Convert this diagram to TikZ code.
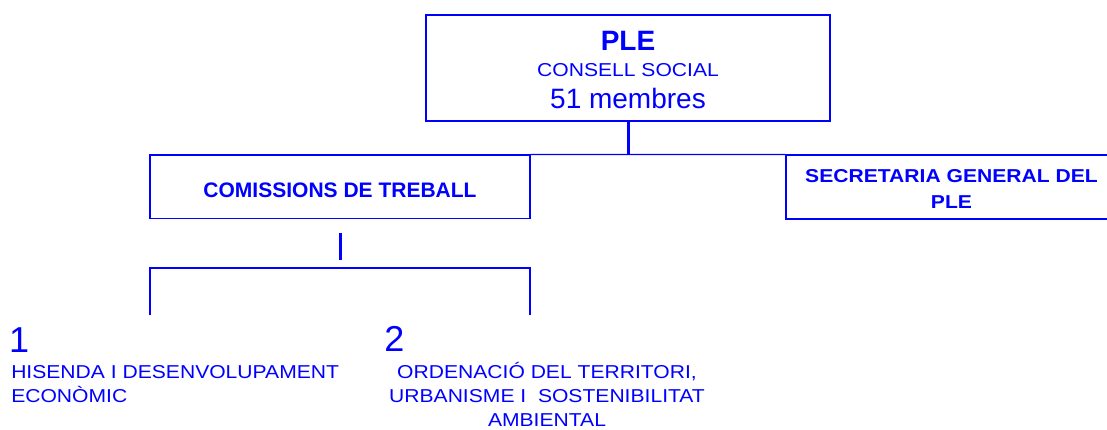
\documentclass[tikz,border=0pt]{standalone}
\usepackage{fontspec}
\setmainfont{Liberation Sans}
\newfontfamily\widefont[FakeStretch=1.13]{Liberation Sans}
\definecolor{orgblue}{RGB}{0,0,255}
\usetikzlibrary{positioning}

\tikzset{
    box/.style={draw=orgblue, line width=0.9pt},
    stem/.style={draw=orgblue, line width=2.25pt},
    link/.style={draw=orgblue, line width=0.9pt},
    lbl/.style={anchor=base west}
}

\begin{document}
\begin{tikzpicture}[x=0.75pt, y=-0.75pt, every node/.style={text=orgblue, inner sep=0pt}]
    \useasboundingbox (0,0) rectangle (1107,429);
    \clip (0,0) rectangle (1107,429);

    % Top box
    \node[box, minimum width=303pt, minimum height=79.5pt, align=center, text height=60.5pt, text depth=0pt, font=\fontsize{21}{19}\selectfont] (ple) at (628,68)
        {\bfseries PLE\\{\widefont\fontsize{14}{14}\selectfont CONSELL SOCIAL}\\[5.25pt]51 membres};

    % Second level
    \node[box, minimum width=285pt, minimum height=47.6pt, text height=15.75pt, text depth=0pt, font=\bfseries\fontsize{15.75}{19}\selectfont] (com) at (340,186.75) {COMISSIONS DE TREBALL};
    \node[box, minimum width=248.25pt, minimum height=48pt, align=center, text height=32pt, text depth=0pt, font=\widefont\bfseries\fontsize{14}{19.2}\selectfont] (sec) at (951.5,187) {SECRETARIA GENERAL DEL\\PLE};

    % Connectors
    \draw[stem] (ple.south) -- (ple.south |- com.north);
    \draw[link] (com.north east) -- (sec.north west);

    % Commissions branch
    \coordinate (stemtop) at (340,233);
    \coordinate (stembot) at (340,260);
    \draw[stem] (stemtop) -- (stembot);
    \coordinate (bar) at (340,268);
    \coordinate (c1) at (150,315);
    \coordinate (c2) at (530,315);
    \draw[link] (c1) |- (bar) -| (c2);

    % Commission labels
    \node[lbl, font=\fontsize{27}{27}\selectfont] (num1) at (8.8,352.3) {1};
    \node[lbl, align=left, font=\widefont\fontsize{14}{18.3}\selectfont] (hisenda) at (11,402.7) {HISENDA I DESENVOLUPAMENT\\ECONÒMIC};
    \node[lbl, font=\fontsize{27}{27}\selectfont] (num2) at (384,351.7) {2};
    \node[anchor=base, align=center, font=\widefont\fontsize{14}{18.15}\selectfont] (ordenacio) at (547,426.7) {ORDENACIÓ DEL TERRITORI,\\URBANISME I~ SOSTENIBILITAT\\AMBIENTAL};
\end{tikzpicture}
\end{document}
